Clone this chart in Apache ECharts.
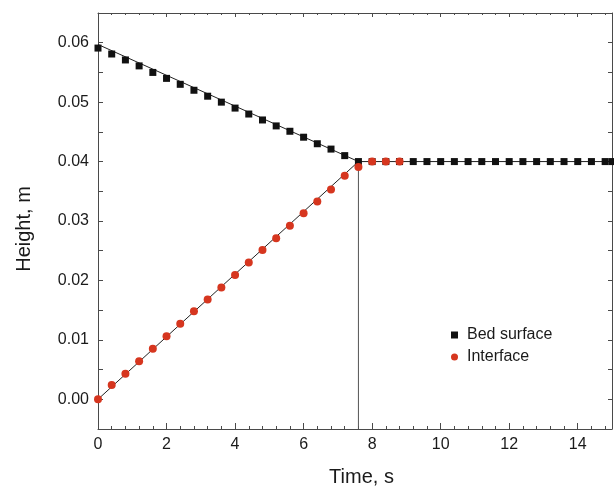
<!DOCTYPE html>
<html>
<head>
<meta charset="utf-8">
<script src="https://cdn.jsdelivr.net/npm/echarts@6/dist/echarts.min.js"></script>
<style>html,body{margin:0;padding:0;background:#fff}#c{width:614px;height:488px}</style>
</head>
<body>
<div id="c"></div>
<script>
// Measurement times (s)
const bedTime = [0,0.4,0.8,1.2,1.6,2.0,2.4,2.8,3.2,3.6,4.0,4.4,4.8,5.2,5.6,6.0,6.4,6.8,7.2,7.6,8.0,8.4,8.8,9.2,9.6,10.0,10.4,10.8,11.2,11.6,12.0,12.4,12.8,13.2,13.6,14.0,14.4,14.8,15.0];
const bedHeight = [0.0591,0.0581,0.0571,0.0561,0.0550,0.0540,0.0530,0.0520,0.0510,0.0500,0.0490,0.0480,0.0470,0.0460,0.0451,0.0441,0.0430,0.0421,0.0410,0.0400,0.0400,0.0400,0.0400,0.0400,0.0400,0.0400,0.0400,0.0400,0.0400,0.0400,0.0400,0.0400,0.0400,0.0400,0.0400,0.0400,0.0400,0.0400,0.0400];
const intTime = [0,0.4,0.8,1.2,1.6,2.0,2.4,2.8,3.2,3.6,4.0,4.4,4.8,5.2,5.6,6.0,6.4,6.8,7.2,7.6,8.0,8.4,8.8];
const intHeight = [0.0000,0.0024,0.0043,0.0064,0.0085,0.0106,0.0127,0.0148,0.0168,0.0188,0.0209,0.0230,0.0251,0.0271,0.0292,0.0313,0.0333,0.0353,0.0376,0.0391,0.0400,0.0400,0.0400];
// Model lines
const bedLineT = [0, 7.6, 15];
const bedLineH = [0.0597, 0.0400, 0.0400];
const intLineT = [0, 7.6];
const intLineH = [0.0000, 0.0400];
const tfT = [7.6, 7.6];
const tfH = [0.0400, -0.005];

const zip = (a, b) => a.map((v, i) => [v, b[i]]);
const axisColor = '#4a4a4a';
const txt = '#1a1a1a';
const font = 'Liberation Sans, Arial, sans-serif';

const chart = echarts.init(document.getElementById('c'));
chart.setOption({
  animation: false,
  backgroundColor: '#fff',
  grid: { left: 98, right: 2, top: 13, bottom: 59, containLabel: false, outerBoundsMode: 'none' },
  legend: {
    orient: 'vertical', left: 451, top: 327, itemGap: 6, padding: 0,
    itemWidth: 7, itemHeight: 7,
    textStyle: { fontFamily: font, fontSize: 16, color: txt, padding: [0, 0, 0, 4] },
    data: [{ name: 'Bed surface', icon: 'rect' }, { name: 'Interface', icon: 'circle' }]
  },
  xAxis: [{
    type: 'value', min: 0, max: 15, interval: 2,
    name: 'Time, s', nameLocation: 'middle', nameGap: 38,
    nameTextStyle: { fontFamily: font, fontSize: 20, color: txt, padding: [0, 0, 0, 13] },
    axisLine: { onZero: false, lineStyle: { color: axisColor, width: 1 } },
    axisTick: { inside: true, length: 6, lineStyle: { color: axisColor } },
    minorTick: { show: true, splitNumber: 5, length: 3, lineStyle: { color: axisColor } },
    splitLine: { show: false },
    axisLabel: { fontFamily: font, fontSize: 16, color: txt, margin: 8,
      formatter: v => (Math.abs(v % 2) < 1e-9 ? String(v) : '') }
  }, {
    type: 'value', min: 0, max: 15, interval: 2, position: 'top',
    axisLine: { onZero: false, lineStyle: { color: axisColor, width: 1 } },
    axisTick: { inside: true, length: 4, lineStyle: { color: axisColor } },
    minorTick: { show: true, splitNumber: 5, length: 2, lineStyle: { color: axisColor } },
    splitLine: { show: false }, axisLabel: { show: false }
  }],
  yAxis: [{
    type: 'value', min: -0.005, max: 0.065, interval: 0.005,
    name: 'Height, m', nameLocation: 'middle', nameGap: 64, nameRotate: 90,
    nameTextStyle: { fontFamily: font, fontSize: 20, color: txt, padding: [0, 16, 0, 0] },
    axisLine: { onZero: false, lineStyle: { color: axisColor, width: 1 } },
    axisTick: { inside: true, length: 5, lineStyle: { color: axisColor } },
    splitLine: { show: false },
    axisLabel: { fontFamily: font, fontSize: 16, color: txt, margin: 9,
      formatter: v => { const k = Math.round(v * 1000); return (k >= 0 && k % 10 === 0 && k <= 60) ? (k / 1000).toFixed(2) : ''; } }
  }, {
    type: 'value', min: -0.005, max: 0.065, interval: 0.005, position: 'right',
    axisLine: { onZero: false, lineStyle: { color: axisColor, width: 1 } },
    axisTick: { inside: true, length: 4, lineStyle: { color: axisColor } },
    splitLine: { show: false }, axisLabel: { show: false }
  }],
  series: [
    { name: 'bedLine', type: 'line', data: zip(bedLineT, bedLineH), symbol: 'none',
      lineStyle: { color: '#222', width: 1 }, silent: true, z: 2 },
    { name: 'intLine', type: 'line', data: zip(intLineT, intLineH), symbol: 'none',
      lineStyle: { color: '#222', width: 1 }, silent: true, z: 2 },
    { name: 'tf', type: 'line', data: zip(tfT, tfH), symbol: 'none',
      lineStyle: { color: '#555', width: 1 }, silent: true, z: 2 },
    { name: 'Bed surface', type: 'scatter', data: zip(bedTime, bedHeight), symbol: 'rect', symbolSize: 7,
      itemStyle: { color: '#111', opacity: 1 }, z: 3 },
    { name: 'Interface', type: 'scatter', data: zip(intTime, intHeight), symbol: 'circle', symbolSize: 8,
      itemStyle: { color: '#d6361f', opacity: 1 }, z: 4 }
  ]
});
</script>
</body>
</html>
